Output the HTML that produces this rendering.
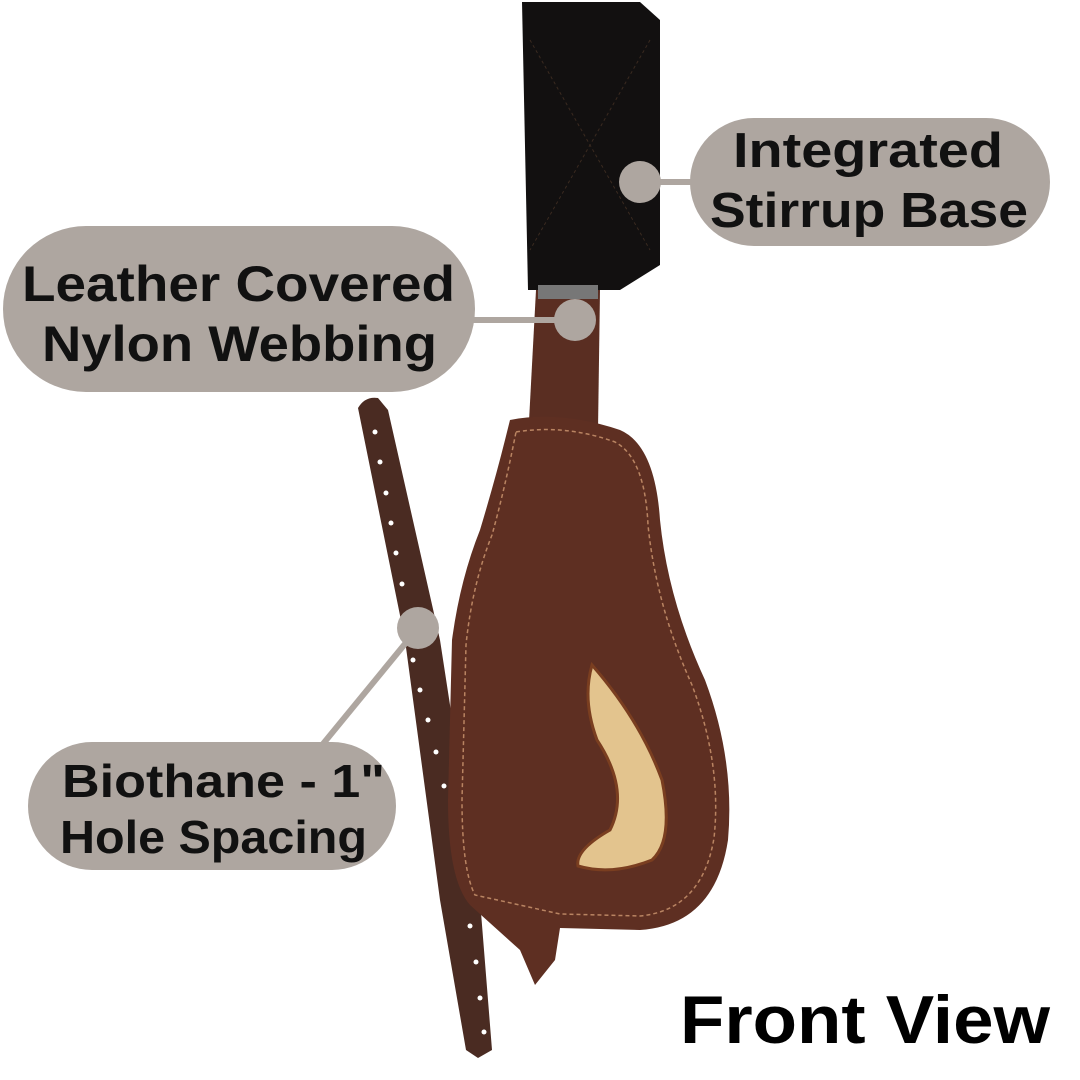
<!DOCTYPE html>
<html><head><meta charset="utf-8"><style>
html,body{margin:0;padding:0;background:#fff}
svg{display:block}
text{font-family:"Liberation Sans","DejaVu Sans",sans-serif;font-weight:bold}
</style></head><body>
<svg width="1080" height="1080" viewBox="0 0 1080 1080" xmlns="http://www.w3.org/2000/svg">
<path d="M358 408 Q365 396 378 398 L388 410 L440 640 L480 900 L492 1050 L478 1058 L466 1050 L440 900 L405 640 Z" fill="#4a2b22"/>
<g fill="#fff">
<circle cx="375" cy="432" r="2.5"/><circle cx="380" cy="462" r="2.5"/><circle cx="386" cy="493" r="2.5"/>
<circle cx="391" cy="523" r="2.5"/><circle cx="396" cy="553" r="2.5"/><circle cx="402" cy="584" r="2.5"/>
<circle cx="413" cy="660" r="2.5"/><circle cx="420" cy="690" r="2.5"/><circle cx="428" cy="720" r="2.5"/>
<circle cx="436" cy="752" r="2.5"/><circle cx="444" cy="786" r="2.5"/><circle cx="452" cy="820" r="2.5"/>
<circle cx="458" cy="854" r="2.5"/><circle cx="464" cy="890" r="2.5"/><circle cx="470" cy="926" r="2.5"/>
<circle cx="476" cy="962" r="2.5"/><circle cx="480" cy="998" r="2.5"/><circle cx="484" cy="1032" r="2.5"/>
</g>
<path d="M536 290 L600 290 L598 430 L528 440 Z" fill="#5a2e22"/>
<path d="M510 420 Q560 410 620 430 Q655 445 660 520 Q668 600 705 680 Q735 760 728 840 Q715 925 640 930 L560 928 L555 960 L535 985 L520 950 L470 905 Q448 880 448 800 L452 640 Q460 580 480 530 Q495 480 505 440 Z" fill="#5e2f22"/>
<path d="M516 432 Q565 424 615 442 Q645 458 648 525 Q656 605 692 685 Q722 765 714 838 Q702 910 640 916 L560 914 L475 895 Q462 870 462 800 L466 645 Q472 585 492 535 Q505 488 516 432 Z" fill="none" stroke="#b98462" stroke-width="1.5" stroke-dasharray="4 3"/>
<path d="M592 665 Q640 720 662 780 Q674 840 652 860 Q612 876 578 866 Q575 850 610 830 Q630 790 597 740 Q582 700 592 665 Z" fill="#e3c48e" stroke="#7a3e20" stroke-width="3"/>
<path d="M522 2 L640 2 L660 20 L660 265 L620 290 L528 290 Z" fill="#121010"/>
<path d="M530 40 L650 250 M650 40 L530 250" stroke="#3a2a20" stroke-width="1" stroke-dasharray="3 3" fill="none"/>
<rect x="538" y="285" width="60" height="14" fill="#777"/>
<line x1="640" y1="182" x2="700" y2="182" stroke="#aea6a0" stroke-width="6"/>
<circle cx="640" cy="182" r="21" fill="#aea6a0"/>
<line x1="470" y1="320" x2="575" y2="320" stroke="#aea6a0" stroke-width="6"/>
<circle cx="575" cy="320" r="21" fill="#aea6a0"/>
<line x1="418" y1="628" x2="318" y2="750" stroke="#aea6a0" stroke-width="6"/>
<circle cx="418" cy="628" r="21" fill="#aea6a0"/>
<rect x="690" y="118" width="360" height="128" rx="64" fill="#aea6a0"/>
<text x="733" y="167" font-size="49" textLength="270" lengthAdjust="spacingAndGlyphs" fill="#111">Integrated</text>
<text x="710" y="227" font-size="49" textLength="318" lengthAdjust="spacingAndGlyphs" fill="#111">Stirrup Base</text>
<rect x="3" y="226" width="472" height="166" rx="83" fill="#aea6a0"/>
<text x="22" y="301" font-size="50" textLength="433" lengthAdjust="spacingAndGlyphs" fill="#111">Leather Covered</text>
<text x="42" y="361" font-size="50" textLength="395" lengthAdjust="spacingAndGlyphs" fill="#111">Nylon Webbing</text>
<rect x="28" y="742" width="368" height="128" rx="64" fill="#aea6a0"/>
<text x="62" y="797" font-size="46" textLength="323" lengthAdjust="spacingAndGlyphs" fill="#111">Biothane - 1"</text>
<text x="60" y="853" font-size="46" textLength="307" lengthAdjust="spacingAndGlyphs" fill="#111">Hole Spacing</text>
<text x="680" y="1043" font-size="68" textLength="370" lengthAdjust="spacingAndGlyphs" fill="#000">Front View</text>
</svg>
</body></html>
